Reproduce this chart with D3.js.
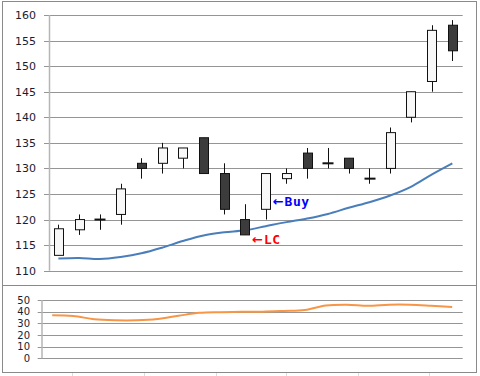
<!DOCTYPE html>
<html>
<head>
<meta charset="utf-8">
<script src="https://cdn.jsdelivr.net/npm/d3@7"></script>
<style>
  body { margin: 0; background: #fff; }
  svg { display: block; }
  .tick-label { font-family: "DejaVu Sans", sans-serif; fill: #1c1c30; }
</style>
</head>
<body>
<script>
// ---- data ----
const days   = [1, 2, 3, 4, 5, 6, 7, 8, 9, 10, 11, 12, 13, 14, 15, 16, 17, 18, 19, 20];
const opens  = [113, 118, 120, 121, 131, 131, 132, 136, 129, 120, 122, 128, 133, 131, 132, 128, 130, 140, 147, 158];
const highs  = [119, 121, 121, 127, 132, 135, 134, 136, 131, 123, 129, 130, 134, 134, 132, 130, 138, 145, 158, 159];
const lows   = [113, 117, 118, 119, 128, 129, 130, 129, 121, 117, 120, 127, 128, 130, 129, 127, 129, 139, 145, 151];
const closes = [118.2, 120, 120, 126, 130, 134, 134, 129, 122, 117, 129, 129, 130, 131, 130, 128, 137, 145, 157, 153];
const movAvg = [112.4, 112.5, 112.3, 112.7, 113.4, 114.5, 115.8, 116.9, 117.5, 117.9, 118.7, 119.5, 120.2, 121.1, 122.3, 123.4, 124.7, 126.4, 128.8, 131.0];
const oscVals = [37, 36.3, 33.5, 32.6, 32.6, 33.7, 36.5, 39, 39.6, 40, 40, 40.6, 41.4, 45.3, 46, 45, 46, 46, 45.1, 44];

const priceTicks = [110, 115, 120, 125, 130, 135, 140, 145, 150, 155, 160];
const oscTicks = [0, 10, 20, 30, 40, 50];

// annotations: day, price, text, colour
const notes = [
    { day: 11, price: 123.8, text: "Buy", color: "#0000ff" },
    { day: 10, price: 116.4, text: "LC", color: "#ff0000" }
];

const W = 480, H = 376;
const GRID = "#959595";

const candles = days.map((d, i) => ({
    day: d, open: opens[i], high: highs[i], low: lows[i], close: closes[i]
}));

const svg = d3.select("body").append("svg")
    .attr("width", W)
    .attr("height", H);

// panel frames
svg.append("rect")
    .attr("x", 2.5).attr("y", 1.5)
    .attr("width", 474).attr("height", 284)
    .attr("fill", "#fff").attr("stroke", "#8a8a8a");
svg.append("rect")
    .attr("x", 2.5).attr("y", 285.5)
    .attr("width", 474).attr("height", 87)
    .attr("fill", "#fff").attr("stroke", "#8a8a8a");

// faint sheet gridline stubs under the chart
svg.append("g").selectAll("line")
    .data([72, 144, 216, 286, 358, 429])
    .enter().append("line")
    .attr("x1", d => d + 0.5).attr("x2", d => d + 0.5)
    .attr("y1", 373).attr("y2", H)
    .attr("stroke", "#dcdcdc");

/********* upper (price) panel *********/
const x = d3.scaleBand().domain(days).range([48, 462.7]).padding(0);
const y = d3.scaleLinear().domain([110, 160]).range([270.7, 15]);

const upper = svg.append("g");

upper.append("g").selectAll("line")
    .data(priceTicks)
    .enter().append("line")
    .attr("x1", 44).attr("x2", 462.7)
    .attr("y1", d => Math.round(y(d)) + 0.5)
    .attr("y2", d => Math.round(y(d)) + 0.5)
    .attr("stroke", GRID);

upper.append("line")
    .attr("x1", 49.5).attr("x2", 49.5)
    .attr("y1", y(160)).attr("y2", y(110))
    .attr("stroke", "#b5b5b5").attr("stroke-width", 1.5);

upper.append("g").selectAll("text")
    .data(priceTicks)
    .enter().append("text")
    .attr("class", "tick-label")
    .attr("x", 36)
    .attr("y", d => y(d))
    .attr("dy", "0.36em")
    .attr("text-anchor", "end")
    .style("font-size", "11px")
    .text(d => d);

// moving average
upper.append("path")
    .datum(movAvg)
    .attr("fill", "none")
    .attr("stroke", "#4a7ebb")
    .attr("stroke-width", 2)
    .attr("d", d3.line()
        .x((d, i) => x(days[i]) + x.bandwidth() / 2)
        .y(d => y(d))
        .curve(d3.curveCatmullRom.alpha(0.5)));

const bodyW = 9;
const cg = upper.append("g").selectAll("g")
    .data(candles)
    .enter().append("g");

cg.append("line")
    .attr("x1", d => Math.round(x(d.day) + x.bandwidth() / 2) + 0.5)
    .attr("x2", d => Math.round(x(d.day) + x.bandwidth() / 2) + 0.5)
    .attr("y1", d => y(d.high))
    .attr("y2", d => y(d.low))
    .attr("stroke", "#111");

cg.append("rect")
    .attr("x", d => Math.round(x(d.day) + x.bandwidth() / 2 - bodyW / 2) + 0.5)
    .attr("y", d => y(Math.max(d.open, d.close)))
    .attr("width", bodyW)
    .attr("height", d => Math.max(0.01, Math.abs(y(d.open) - y(d.close))))
    .attr("fill", d => d.close >= d.open ? "#f8f8f8" : "#3c3c3c")
    .attr("stroke", "#111")
    .attr("stroke-width", d => d.close === d.open ? 2 : 1);

// annotations
const ng = upper.append("g").selectAll("text")
    .data(notes)
    .enter().append("text")
    .attr("x", d => x(d.day) + x.bandwidth() / 2 + 7)
    .attr("y", d => y(d.price))
    .attr("dy", "0.36em")
    .attr("fill", d => d.color)
    .style("font-weight", "bold");
ng.append("tspan")
    .style("font-family", "DejaVu Sans, sans-serif")
    .style("font-size", "13px")
    .text("\u2190");
ng.append("tspan")
    .attr("dx", 1)
    .style("font-family", "DejaVu Sans Mono, monospace")
    .style("font-size", "13px")
    .style("letter-spacing", "0.5px")
    .text(d => d.text);

/********* lower (oscillator) panel *********/
const x2 = d3.scaleBand().domain(days).range([41.7, 462.7]).padding(0);
const y2 = d3.scaleLinear().domain([0, 50]).range([358.3, 300]);

const lower = svg.append("g");

lower.append("g").selectAll("line")
    .data(oscTicks)
    .enter().append("line")
    .attr("x1", 37.7).attr("x2", 462.7)
    .attr("y1", d => Math.round(y2(d)) + 0.5)
    .attr("y2", d => Math.round(y2(d)) + 0.5)
    .attr("stroke", GRID);

lower.append("line")
    .attr("x1", 42).attr("x2", 42)
    .attr("y1", y2(50)).attr("y2", y2(0))
    .attr("stroke", "#b5b5b5").attr("stroke-width", 1.5);

lower.append("g").selectAll("text")
    .data(oscTicks)
    .enter().append("text")
    .attr("class", "tick-label")
    .attr("x", 30)
    .attr("y", d => y2(d))
    .attr("dy", "0.36em")
    .attr("text-anchor", "end")
    .style("font-size", "10px")
    .text(d => d);

lower.append("path")
    .datum(oscVals)
    .attr("fill", "none")
    .attr("stroke", "#f79646")
    .attr("stroke-width", 2)
    .attr("d", d3.line()
        .x((d, i) => x2(days[i]) + x2.bandwidth() / 2)
        .y(d => y2(d))
        .curve(d3.curveCatmullRom.alpha(0.5)));
</script>
</body>
</html>
